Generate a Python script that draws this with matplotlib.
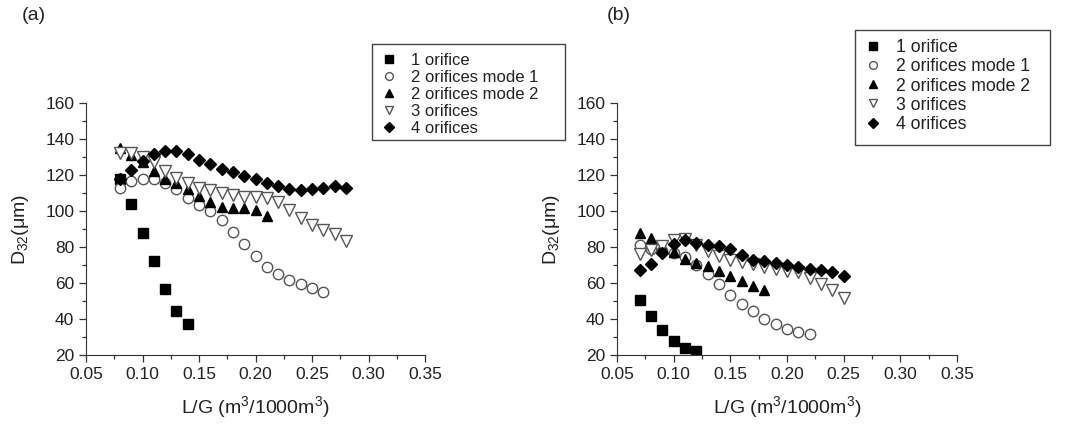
import matplotlib
matplotlib.use("Agg")
import matplotlib.pyplot as plt
from matplotlib.patches import Rectangle
from matplotlib.ticker import MultipleLocator, FormatStrFormatter

plt.rcParams["font.family"] = ["Liberation Sans", "DejaVu Sans"]
plt.rcParams["mathtext.fontset"] = "custom"
plt.rcParams["mathtext.rm"] = "Liberation Sans"
plt.rcParams["mathtext.it"] = "Liberation Sans"

labels = ["1 orifice", "2 orifices mode 1", "2 orifices mode 2", "3 orifices", "4 orifices"]

# panel (a)
a_x1 = [0.08, 0.09, 0.10, 0.11, 0.12, 0.13, 0.14]
a_y1 = [118, 104, 88, 72, 56.5, 44.5, 37]
a_x2 = [0.08, 0.09, 0.10, 0.11, 0.12, 0.13, 0.14, 0.15, 0.16, 0.17, 0.18, 0.19,
        0.20, 0.21, 0.22, 0.23, 0.24, 0.25, 0.26]
a_y2 = [113, 116.5, 118, 118, 115.5, 112, 107.5, 103.5, 100, 95, 88.5, 81.5,
        75, 69, 65, 61.5, 59.5, 57.5, 55]
a_x3 = [0.08, 0.09, 0.10, 0.11, 0.12, 0.13, 0.14, 0.15, 0.16, 0.17, 0.18, 0.19,
        0.20, 0.21]
a_y3 = [135, 131, 127, 122.5, 118, 115.5, 112, 108.5, 105, 102.5, 101.5, 101.5,
        100.5, 97.5]
a_x4 = [0.08, 0.09, 0.10, 0.11, 0.12, 0.13, 0.14, 0.15, 0.16, 0.17, 0.18, 0.19,
        0.20, 0.21, 0.22, 0.23, 0.24, 0.25, 0.26, 0.27, 0.28]
a_y4 = [132, 132, 130, 127, 122.5, 118.5, 115.5, 113, 111.5, 110, 109, 108,
        108, 107, 105, 100.5, 96, 92.5, 89.5, 87, 83.5]
a_x5 = [0.08, 0.09, 0.10, 0.11, 0.12, 0.13, 0.14, 0.15, 0.16, 0.17, 0.18, 0.19,
        0.20, 0.21, 0.22, 0.23, 0.24, 0.25, 0.26, 0.27, 0.28]
a_y5 = [118, 123, 128, 131.5, 133.5, 133.5, 131.5, 128.5, 126, 123.5, 121.5, 119.5,
        118, 115.5, 114, 112, 111.5, 112, 113, 114, 113]

# panel (b)
b_x1 = [0.07, 0.08, 0.09, 0.10, 0.11, 0.12]
b_y1 = [50.5, 41.5, 34, 28, 24, 22]
b_x2 = [0.07, 0.08, 0.09, 0.10, 0.11, 0.12, 0.13, 0.14, 0.15, 0.16, 0.17, 0.18,
        0.19, 0.20, 0.21, 0.22]
b_y2 = [81, 79, 78, 76.5, 74.5, 70, 65, 59.5, 53.5, 48.5, 44.3, 40.2,
        37, 34.6, 32.7, 31.6]
b_x3 = [0.07, 0.08, 0.09, 0.10, 0.11, 0.12, 0.13, 0.14, 0.15, 0.16, 0.17, 0.18]
b_y3 = [88, 85, 80, 77, 73.2, 71, 69.5, 66.8, 64, 61, 58.5, 56]
b_x4 = [0.07, 0.08, 0.09, 0.10, 0.11, 0.12, 0.13, 0.14, 0.15, 0.16, 0.17, 0.18,
        0.19, 0.20, 0.21, 0.22, 0.23, 0.24, 0.25]
b_y4 = [76, 78.5, 80.5, 84, 84.5, 81, 77.7, 75, 73, 71.5, 70.5, 69,
        68, 66.5, 66, 63, 59.6, 56, 51.6]
b_x5 = [0.07, 0.08, 0.09, 0.10, 0.11, 0.12, 0.13, 0.14, 0.15, 0.16, 0.17, 0.18,
        0.19, 0.20, 0.21, 0.22, 0.23, 0.24, 0.25]
b_y5 = [67, 70.7, 76.8, 81.5, 84, 82.5, 81, 80.4, 79, 75.6, 73, 72,
        71, 70, 69, 68, 67, 66.3, 64]

gray = "#555555"
txt = "#222222"
styles = [
    dict(marker="s", mfc="black", mec="black"),
    dict(marker="o", mfc="white", mec=gray),
    dict(marker="^", mfc="black", mec="black"),
    dict(marker="v", mfc="white", mec=gray),
    dict(marker="D", mfc="black", mec="black"),
]
sizes = [7, 7.5, 7.5, 8, 6.5]

W, H = 1071, 424


def draw_panel(ax, series, tag, tag_x, box, leg_fs, fig):
    for (x, y), st, ms, lab in zip(series, styles, sizes, labels):
        ax.plot(x, y, linestyle="none", ms=ms, mew=1.0, label=lab, **st)
    ax.set_xlim(0.05, 0.35)
    ax.set_ylim(20, 160)
    ax.xaxis.set_major_locator(MultipleLocator(0.05))
    ax.xaxis.set_minor_locator(MultipleLocator(0.025))
    ax.yaxis.set_major_locator(MultipleLocator(20))
    ax.yaxis.set_minor_locator(MultipleLocator(10))
    ax.xaxis.set_major_formatter(FormatStrFormatter("%.2f"))
    for s in ["top", "right"]:
        ax.spines[s].set_visible(False)
    for s in ["left", "bottom"]:
        ax.spines[s].set_color("#333333")
    ax.tick_params(which="major", direction="out", length=5, width=0.9,
                   labelsize=12.5, color="#333333", labelcolor=txt)
    ax.tick_params(which="minor", direction="out", length=3, width=0.9, color="#333333")
    ax.set_xlabel("L/G (m$^3$/1000m$^3$)", fontsize=14, color=txt, labelpad=9)
    ax.set_ylabel("D$_{32}$($\\mu$m)", fontsize=14, color=txt, labelpad=10)
    fig.text(tag_x / W, 1 - 20 / H, tag, fontsize=14, color=txt)

    # legend box drawn by hand, entries placed by legend without frame
    x0, y0, x1, y1 = box
    fig.patches.append(Rectangle((x0 / W, 1 - y1 / H), (x1 - x0) / W, (y1 - y0) / H,
                                 transform=fig.transFigure, fill=False,
                                 edgecolor="#444444", linewidth=1.0))
    ax.legend(loc="upper left", bbox_to_anchor=((x0 + 4) / W, 1 - (y0 + 4) / H),
              bbox_transform=fig.transFigure, fontsize=leg_fs, frameon=False,
              markerscale=0.75, handlelength=1.0, handletextpad=0.8,
              labelspacing=0.12, borderpad=0.3, borderaxespad=0, labelcolor=txt)


fig = plt.figure(figsize=(W / 100, H / 100), dpi=100)
ax_a = fig.add_axes([86 / W, 69 / H, 339 / W, 252 / H])
ax_b = fig.add_axes([617 / W, 69 / H, 340 / W, 252 / H])

draw_panel(ax_a, [(a_x1, a_y1), (a_x2, a_y2), (a_x3, a_y3), (a_x4, a_y4), (a_x5, a_y5)],
           "(a)", 22, (372, 44, 565, 140), 12, fig)
draw_panel(ax_b, [(b_x1, b_y1), (b_x2, b_y2), (b_x3, b_y3), (b_x4, b_y4), (b_x5, b_y5)],
           "(b)", 607, (855, 30, 1050, 145), 12.7, fig)

fig.savefig("out.png", dpi=100)
